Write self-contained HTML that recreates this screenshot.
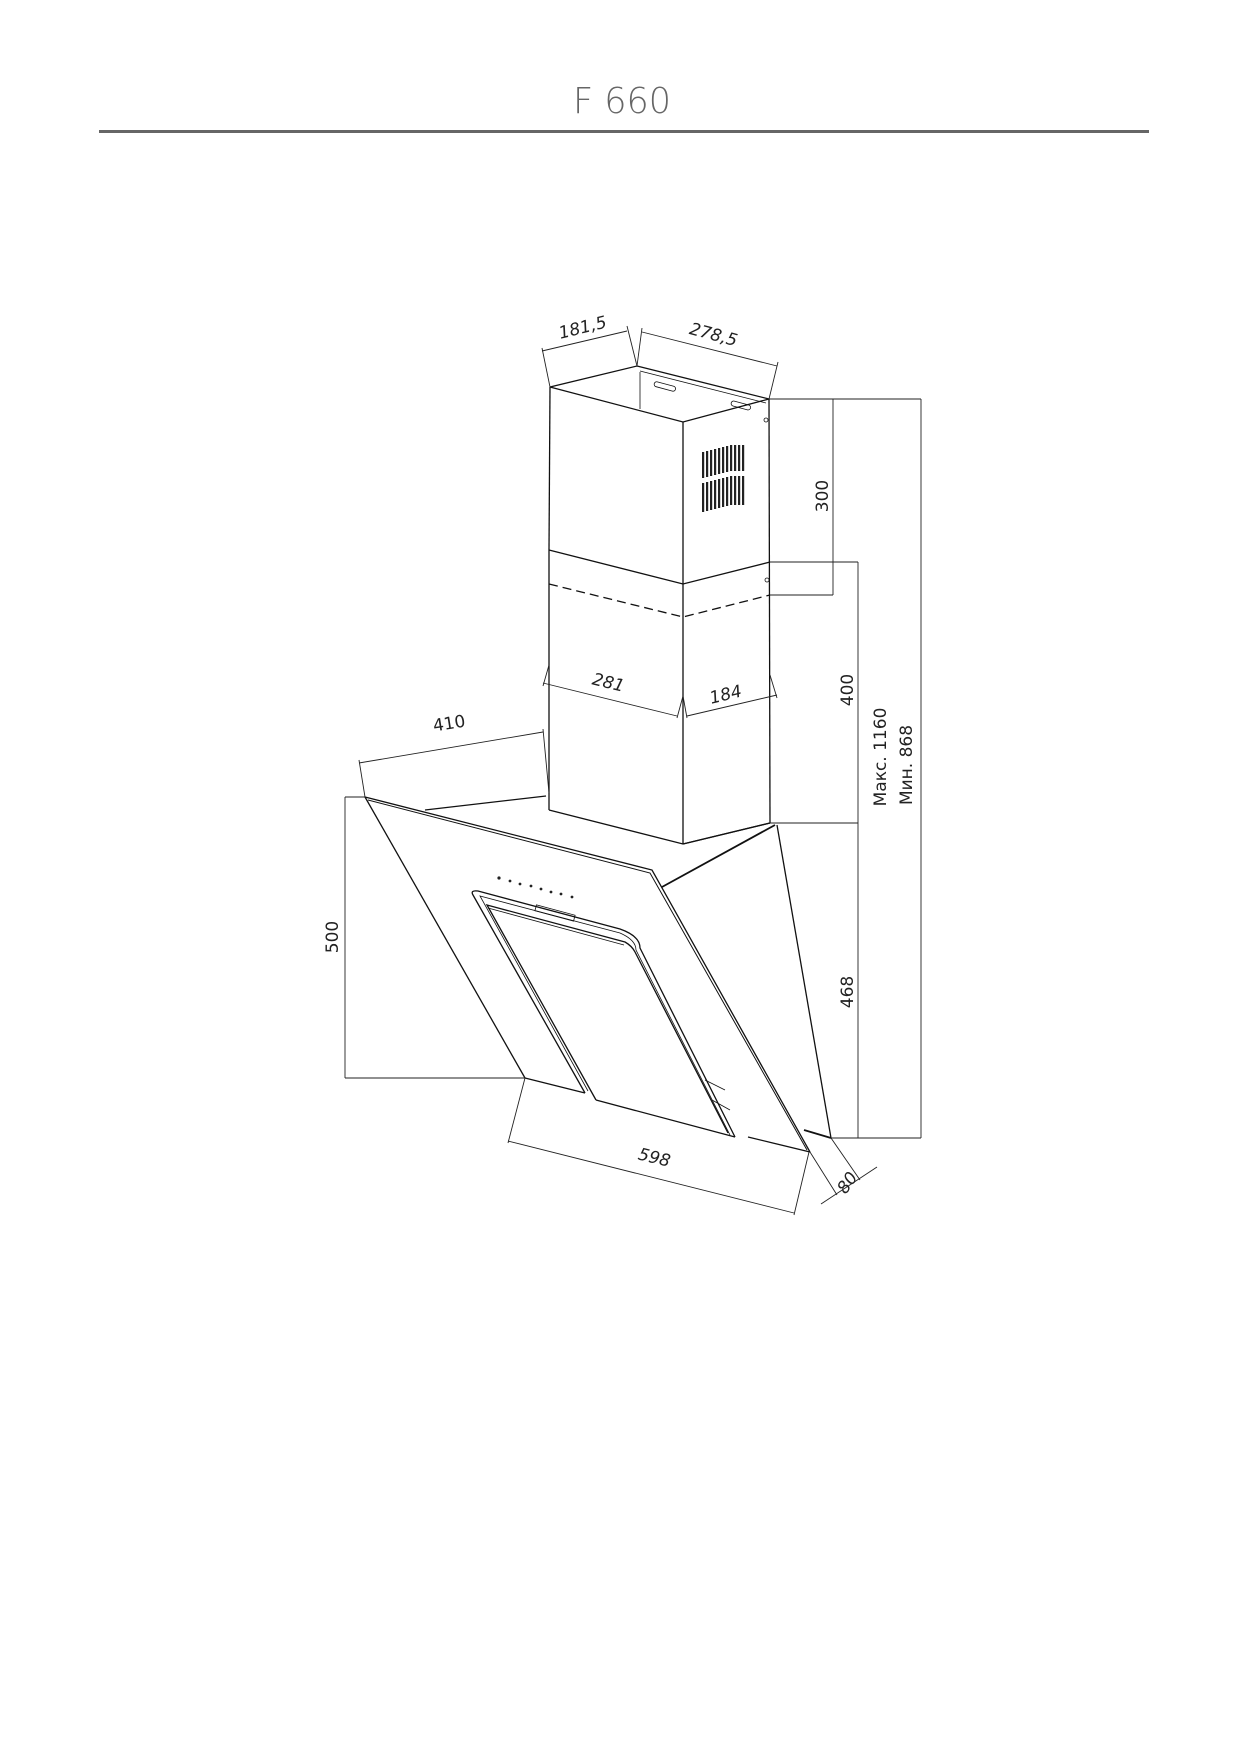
<!DOCTYPE html>
<html><head><meta charset="utf-8"><style>html,body{margin:0;padding:0;background:#fff}svg{display:block}</style></head>
<body>
<svg width="1241" height="1754" viewBox="0 0 1241 1754" xmlns="http://www.w3.org/2000/svg" font-family="'DejaVu Sans', 'Liberation Sans', sans-serif">
<text x="622" y="113" text-anchor="middle" font-size="36" fill="#666" font-family="'DejaVu Sans', sans-serif" font-weight="200" textLength="98" lengthAdjust="spacingAndGlyphs">F 660</text>
<rect x="99" y="130" width="1050" height="3" fill="#666"/>
<g stroke="#111" fill="none" stroke-width="1.3">
<!-- upper duct -->
<polyline points="550,387 683,422 769,399"/>
<line x1="550" y1="387" x2="637" y2="366"/>
<line x1="637" y1="366" x2="769" y2="399"/>
<line x1="640" y1="371" x2="766" y2="403" stroke-width="0.8"/>
<line x1="640" y1="372" x2="640" y2="409" stroke-width="0.8"/>
<rect x="654" y="384" width="22" height="5" rx="2.5" transform="rotate(15 665 386)" stroke-width="0.8"/>
<rect x="731" y="403" width="20" height="5" rx="2.5" transform="rotate(15 741 405)" stroke-width="0.8"/>
<line x1="550" y1="387" x2="549" y2="550"/>
<line x1="683" y1="422" x2="683" y2="844"/>
<line x1="769" y1="399" x2="770" y2="823"/>
<polyline points="549,550 683,584 770,562"/>
<!-- dashed overlap -->
<polyline points="549,584 683,617 770,595" stroke-dasharray="9,5"/>
<line x1="549" y1="550" x2="549" y2="810"/>
<polyline points="549,810 683,844 770,823"/>
<circle cx="766" cy="420" r="2" stroke-width="0.8"/>
<circle cx="767" cy="580" r="2" stroke-width="0.8"/>
</g>
<!-- vents -->
<g fill="#222">
<rect x="702" y="452" width="2.2" height="26"/><rect x="706" y="451" width="2.2" height="26"/><rect x="710" y="450" width="2.2" height="26"/><rect x="714" y="449" width="2.2" height="26"/><rect x="718" y="448" width="2.2" height="26"/><rect x="722" y="447" width="2.2" height="26"/><rect x="726" y="446" width="2.2" height="26"/><rect x="730" y="445" width="2.2" height="26"/><rect x="734" y="445" width="2.2" height="26"/><rect x="738" y="445" width="2.2" height="26"/><rect x="742" y="445" width="2.2" height="26"/>
<rect x="702" y="483" width="2.2" height="29"/><rect x="706" y="482" width="2.2" height="29"/><rect x="710" y="481" width="2.2" height="29"/><rect x="714" y="480" width="2.2" height="29"/><rect x="718" y="479" width="2.2" height="29"/><rect x="722" y="478" width="2.2" height="29"/><rect x="726" y="477" width="2.2" height="29"/><rect x="730" y="476" width="2.2" height="29"/><rect x="734" y="476" width="2.2" height="29"/><rect x="738" y="476" width="2.2" height="29"/><rect x="742" y="476" width="2.2" height="29"/>
</g>
<g stroke="#111" fill="none" stroke-width="1.3">
<!-- hood panel -->
<polyline points="365,797 652,870 810,1152"/>
<polyline points="368,800 650,873 807,1150" stroke-width="1"/>
<line x1="365" y1="797" x2="525" y2="1078"/>
<line x1="525" y1="1078" x2="585" y2="1093"/>
<line x1="596" y1="1100" x2="735" y2="1137"/>
<line x1="748" y1="1137" x2="810" y2="1152"/>
<line x1="425" y1="810" x2="546" y2="796"/>
<!-- window frame -->
<path d="M585,1093 L473,895 Q470,890 478,891 L620,929 Q640,936 640,948 L735,1137"/>
<path d="M588,1091 L480,896 L620,933 Q636,940 636,950 L730,1135" stroke-width="0.8"/>
<path d="M596,1100 L487,905 L625,942 Q632,946 635,952 L728,1133"/>
<line x1="488" y1="908" x2="624" y2="945" stroke-width="0.8"/>
<rect x="535" y="910" width="40" height="6" transform="rotate(15 555 913)" stroke-width="0.8"/>
<line x1="705" y1="1080" x2="725" y2="1090" stroke-width="0.8"/>
<line x1="712" y1="1100" x2="730" y2="1110" stroke-width="0.8"/>
<!-- side panel -->
<line x1="662" y1="887" x2="775" y2="825" stroke-width="1.8"/>
<line x1="683" y1="844" x2="770" y2="823"/>
<line x1="777" y1="825" x2="831" y2="1138"/>
<line x1="804" y1="1130" x2="831" y2="1138" stroke-width="1.8"/>
</g>
<g fill="#222">
<circle cx="499" cy="878" r="1.6"/><circle cx="510" cy="881" r="1.4"/><circle cx="520" cy="884" r="1.4"/><circle cx="531" cy="886" r="1.4"/><circle cx="541" cy="889" r="1.4"/><circle cx="551" cy="892" r="1.4"/><circle cx="561" cy="894" r="1.4"/><circle cx="572" cy="897" r="1.4"/>
</g>
<!-- dimensions -->
<g stroke="#222" fill="none" stroke-width="0.9">
<line x1="550" y1="387" x2="542" y2="348"/><line x1="637" y1="366" x2="627" y2="326"/>
<line x1="542" y1="351" x2="627" y2="331"/>
<line x1="769" y1="399" x2="778" y2="362"/><line x1="637" y1="366" x2="642" y2="328"/>
<line x1="642" y1="332" x2="777" y2="366"/>
<line x1="769" y1="399" x2="921" y2="399"/>
<line x1="770" y1="595" x2="833" y2="595"/>
<line x1="833" y1="399" x2="833" y2="595"/>
<line x1="770" y1="562" x2="858" y2="562"/>
<line x1="858" y1="562" x2="858" y2="823"/>
<line x1="770" y1="823" x2="858" y2="823"/>
<line x1="858" y1="823" x2="858" y2="1138"/>
<line x1="921" y1="399" x2="921" y2="1138"/>
<line x1="831" y1="1138" x2="921" y2="1138"/>
<line x1="543" y1="683" x2="677" y2="716"/>
<line x1="549" y1="665" x2="543" y2="686"/><line x1="683" y1="696" x2="677" y2="718"/>
<line x1="687" y1="716" x2="777" y2="695"/>
<line x1="683" y1="696" x2="687" y2="718"/><line x1="770" y1="675" x2="777" y2="698"/>
<line x1="359" y1="763" x2="543" y2="732"/>
<line x1="365" y1="797" x2="359" y2="760"/><line x1="549" y1="793" x2="543" y2="729"/>
<line x1="345" y1="797" x2="345" y2="1078"/>
<line x1="345" y1="797" x2="365" y2="797"/>
<line x1="345" y1="1078" x2="525" y2="1078"/>
<line x1="508" y1="1141" x2="794" y2="1213"/>
<line x1="525" y1="1078" x2="508" y2="1143"/><line x1="809" y1="1152" x2="794" y2="1215"/>
<line x1="810" y1="1152" x2="837" y2="1195"/><line x1="831" y1="1138" x2="860" y2="1180"/>
<line x1="821" y1="1204" x2="877" y2="1167"/>
</g>
<g fill="#222" font-size="17">
<text transform="translate(584,333) rotate(-14)" text-anchor="middle" font-style="italic">181,5</text>
<text transform="translate(712,340) rotate(15)" text-anchor="middle" font-style="italic">278,5</text>
<text transform="translate(828,496) rotate(-90)" text-anchor="middle">300</text>
<text transform="translate(853,690) rotate(-90)" text-anchor="middle">400</text>
<text transform="translate(886,757) rotate(-90)" text-anchor="middle">Макс. 1160</text>
<text transform="translate(912,765) rotate(-90)" text-anchor="middle">Мин. 868</text>
<text transform="translate(607,688) rotate(14)" text-anchor="middle" font-style="italic">281</text>
<text transform="translate(727,700) rotate(-14)" text-anchor="middle" font-style="italic">184</text>
<text transform="translate(450,729) rotate(-9)" text-anchor="middle">410</text>
<text transform="translate(338,937) rotate(-90)" text-anchor="middle">500</text>
<text transform="translate(853,992) rotate(-90)" text-anchor="middle">468</text>
<text transform="translate(653,1163) rotate(14)" text-anchor="middle" font-style="italic">598</text>
<text transform="translate(852,1186) rotate(-55)" text-anchor="middle" font-style="italic">80</text>
</g>
</svg>
</body></html>
